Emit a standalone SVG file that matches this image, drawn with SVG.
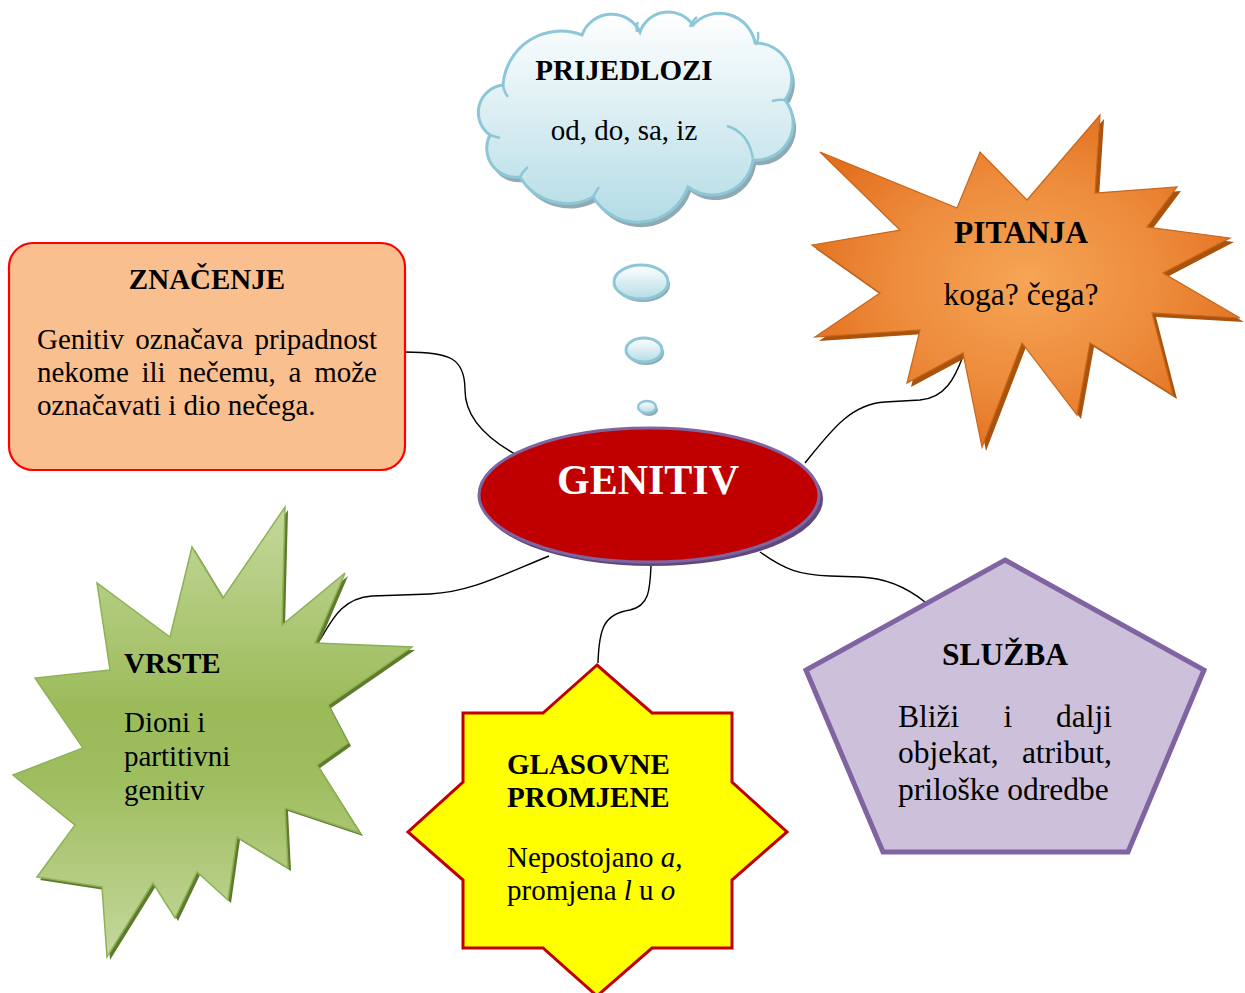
<svg xmlns="http://www.w3.org/2000/svg" width="1245" height="993" viewBox="0 0 1245 993">
<defs>
<linearGradient id="cloudG" x1="0" y1="0" x2="0" y2="1">
<stop offset="0" stop-color="#FFFFFF"/><stop offset="1" stop-color="#B4DCE6"/>
</linearGradient>
<radialGradient id="orangeG" cx="0.5" cy="0.5" r="0.55">
<stop offset="0" stop-color="#F6A556"/><stop offset="0.6" stop-color="#EC8A3A"/><stop offset="1" stop-color="#E2701E"/>
</radialGradient>
<linearGradient id="greenG" x1="0" y1="0" x2="0" y2="1">
<stop offset="0" stop-color="#C4D89C"/><stop offset="0.45" stop-color="#9BBB59"/><stop offset="0.6" stop-color="#9EBD5E"/><stop offset="1" stop-color="#C4D89C"/>
</linearGradient>
<style>
.t{font-family:"Liberation Serif","Times New Roman",serif;fill:#000}
.b{font-weight:bold}
.s29{font-size:29px}
.s31{font-size:31.5px}
.conn{fill:none;stroke:#000;stroke-width:1.4}
.cl{fill:url(#cloudG);stroke:#8DC7D7;stroke-width:3}
.clsh{fill:#8FAAB3}
.inner{fill:none;stroke:#8DC7D7;stroke-width:2.5}
</style>
</defs>
<rect width="1245" height="993" fill="#FFFFFF"/>

<g id="connectors">
<path class="conn" d="M405,352 C450,352 465,358 465,390 C465,420 490,440 515,454"/>
<path class="conn" d="M805,463 C830,432 850,404 885,402 L920,400 C945,398 955,378 963,356"/>
<path class="conn" d="M549,556 C500,576 470,592 430,594 L372,596 C342,598 332,620 320,640"/>
<path class="conn" d="M651,566 C650,590 649,606 630,610 C604,614 599,628 598,663"/>
<path class="conn" d="M760,552 C785,570 800,575 830,576 L860,577 C890,578 910,590 925,602"/>
</g>

<g id="prijedlozi">
<path class="clsh" transform="translate(3,5)" d="M503,85 A58,58 0 0 1 582,35 A31.5,31.5 0 0 1 640,32 A30,30 0 0 1 693,25 A36,36 0 0 1 755,43 A36,36 0 0 1 785,100 A37,37 0 0 1 753,160 A41,41 0 0 1 688,187 A53,53 0 0 1 593,197 A55,55 0 0 1 520,177 A29,29 0 0 1 490,135 A27.6,27.6 0 0 1 503,85 Z"/>
<path class="cl" d="M503,85 A58,58 0 0 1 582,35 A31.5,31.5 0 0 1 640,32 A30,30 0 0 1 693,25 A36,36 0 0 1 755,43 A36,36 0 0 1 785,100 A37,37 0 0 1 753,160 A41,41 0 0 1 688,187 A53,53 0 0 1 593,197 A55,55 0 0 1 520,177 A29,29 0 0 1 490,135 A27.6,27.6 0 0 1 503,85 Z"/>
<path class="inner" d="M503,85 Q504,92 508,97"/>
<path class="inner" d="M637,32 Q636,26 638,22"/>
<path class="inner" d="M690,27 Q693,20 697,17"/>
<path class="inner" d="M756,45 Q759,39 758,32"/>
<path class="inner" d="M785,100 Q780,99 772,101"/>
<path class="inner" d="M727,126 Q748,132 753,158"/>
<path class="inner" d="M593,197 Q597,190 599,187"/>
<path class="inner" d="M520,177 Q523,171 528,167"/>
<path class="inner" d="M490,135 Q496,137 500,138"/>
<text class="t b s29" x="624" y="80" text-anchor="middle">PRIJEDLOZI</text>
<text class="t s29" x="624" y="140" text-anchor="middle">od, do, sa, iz</text>
</g>

<g id="bubbles">
<ellipse cx="643" cy="285" rx="27" ry="17" class="clsh"/>
<ellipse cx="641" cy="282" rx="27" ry="17" class="cl"/>
<ellipse cx="646" cy="353" rx="18" ry="12" class="clsh"/>
<ellipse cx="644" cy="350" rx="18" ry="12" class="cl"/>
<ellipse cx="649" cy="410" rx="9" ry="6" class="clsh"/>
<ellipse cx="647" cy="407" rx="9" ry="6" class="cl" style="stroke-width:2.5"/>
</g>

<g id="znacenje">
<rect x="9" y="243" width="396" height="227" rx="24" ry="24" fill="#FABF8F" stroke="#FF0000" stroke-width="2.2"/>
<text class="t b s29" x="207" y="289" text-anchor="middle">ZNAČENJE</text>
<text class="t s29" y="349"><tspan x="37">Genitiv</tspan><tspan x="189.3" text-anchor="middle">označava</tspan><tspan x="377" text-anchor="end">pripadnost</tspan></text>
<text class="t s29" y="382"><tspan x="37">nekome</tspan><tspan x="141.5">ili</tspan><tspan x="178.4">nečemu,</tspan><tspan x="288.5">a</tspan><tspan x="377" text-anchor="end">može</tspan></text>
<text class="t s29" x="37" y="415">označavati i dio nečega.</text>
</g>

<g id="pitanja">
<path transform="translate(4,4)" fill="#A9530C" d="M1100,115 L1095,193 L1177,187 L1147,227 L1230,238 L1163,273 L1240,318 L1152,313 L1173,395 L1090,343 L1077,415 L1022,343 L982,447 L963,353 L907,383 L920,330 L815,337 L880,293 L812,245 L900,230 L820,152 L957,208 L980,152 L1027,200 Z"/>
<path fill="url(#orangeG)" stroke="#C7651A" stroke-width="1.2" d="M1100,115 L1095,193 L1177,187 L1147,227 L1230,238 L1163,273 L1240,318 L1152,313 L1173,395 L1090,343 L1077,415 L1022,343 L982,447 L963,353 L907,383 L920,330 L815,337 L880,293 L812,245 L900,230 L820,152 L957,208 L980,152 L1027,200 Z"/>
<text class="t b s31" x="1021" y="243" text-anchor="middle">PITANJA</text>
<text class="t s31" x="1021" y="305" text-anchor="middle">koga? čega?</text>
</g>

<g id="genitiv">
<ellipse cx="652" cy="499" rx="171" ry="67" fill="#5F497A"/>
<ellipse cx="649" cy="495" rx="170" ry="67" fill="#C00000" stroke="#8064A2" stroke-width="3"/>
<text class="t b" x="648" y="494" font-size="42" text-anchor="middle" style="fill:#FFFFFF">GENITIV</text>
</g>

<g id="vrste">
<path transform="translate(3,3)" fill="#5E7A2C" d="M285,507 L282,625 L345,573 L315,643 L412,647 L328,705 L348,743 L317,765 L360,833 L285,808 L288,868 L237,837 L228,900 L197,872 L175,918 L153,883 L107,957 L102,887 L37,877 L75,825 L13,775 L83,748 L35,678 L110,670 L97,583 L170,637 L192,547 L223,598 Z"/>
<path fill="url(#greenG)" stroke="#8DB255" stroke-width="1.5" d="M285,507 L282,625 L345,573 L315,643 L412,647 L328,705 L348,743 L317,765 L360,833 L285,808 L288,868 L237,837 L228,900 L197,872 L175,918 L153,883 L107,957 L102,887 L37,877 L75,825 L13,775 L83,748 L35,678 L110,670 L97,583 L170,637 L192,547 L223,598 Z"/>
<text class="t b s29" x="124" y="673">VRSTE</text>
<text class="t s29" x="124" y="732">Dioni i</text>
<text class="t s29" x="124" y="766">partitivni</text>
<text class="t s29" x="124" y="800">genitiv</text>
</g>

<g id="glasovne">
<path fill="#FFFF00" stroke="#C00000" stroke-width="3" d="M597,665 L543,713 L463,713 L463,782 L408,832 L463,880 L463,948 L543,948 L597,996 L652,948 L732,948 L732,880 L787,832 L732,782 L732,713 L652,713 Z"/>
<text class="t b s29" x="507" y="774">GLASOVNE</text>
<text class="t b s29" x="507" y="807">PROMJENE</text>
<text class="t s29" x="507" y="867">Nepostojano <tspan font-style="italic">a</tspan>,</text>
<text class="t s29" x="507" y="900">promjena <tspan font-style="italic">l</tspan> u <tspan font-style="italic">o</tspan></text>
</g>

<g id="sluzba">
<path fill="#CCC0DA" stroke="#8064A2" stroke-width="5" stroke-linejoin="miter" d="M1005,560 L1204,670 L1128,852 L883,852 L806,670 Z"/>
<text class="t b s31" x="1005" y="665" text-anchor="middle">SLUŽBA</text>
<text class="t s31" y="727"><tspan x="898">Bliži</tspan><tspan x="1008" text-anchor="middle">i</tspan><tspan x="1112" text-anchor="end">dalji</tspan></text>
<text class="t s31" y="763"><tspan x="898">objekat,</tspan><tspan x="1112" text-anchor="end">atribut,</tspan></text>
<text class="t s31" x="898" y="800">priloške odredbe</text>
</g>
</svg>
